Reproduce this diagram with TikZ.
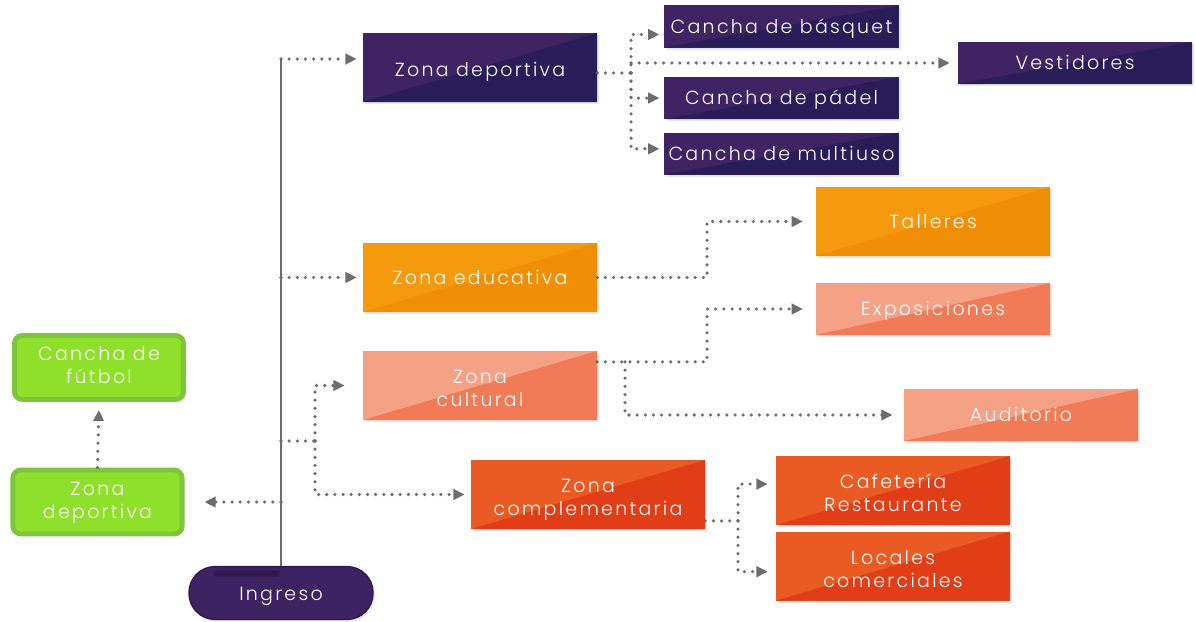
\documentclass[tikz,border=0pt]{standalone}
\usepackage{fontspec}
\newfontfamily\zonefont{Poppins}[UprightFont=* Light, LetterSpace=12]
\usetikzlibrary{arrows.meta,positioning,shadows}
\definecolor{sportA}{HTML}{402362}
\definecolor{sportB}{HTML}{281D59}
\definecolor{eduA}{HTML}{F5990D}
\definecolor{eduB}{HTML}{F08F05}
\definecolor{cultA}{HTML}{F4A185}
\definecolor{cultB}{HTML}{F07B56}
\definecolor{extraA}{HTML}{E95B22}
\definecolor{extraB}{HTML}{E13E18}
\definecolor{fieldFill}{HTML}{8EE02A}
\definecolor{fieldEdge}{HTML}{7EC43C}
\definecolor{entryFill}{HTML}{3D2361}
\definecolor{entryEdge}{HTML}{2E1A4C}
\definecolor{entryBar}{HTML}{30194F}
\definecolor{lineGray}{HTML}{6D6D6D}

\begin{document}
\begin{tikzpicture}[
    x=0.025cm, y=-0.025cm,
    every node/.style={font=\zonefont\fontsize{13.5}{16.4}\selectfont, text=white, align=center, inner sep=0pt, text height=3.3mm, text depth=0pt},
    pair/.style={text height=10.6mm},
    split/.style 2 args={fill=#1, path picture={\fill[#2] (path picture bounding box.south west) -- (path picture bounding box.north east) -- (path picture bounding box.south east) -- cycle;}},
    zone/.style={minimum width=5.85cm, minimum height=1.725cm, drop shadow={shadow xshift=0.6mm, shadow yshift=-0.6mm, opacity=0.18}},
    slim/.style={zone, minimum height=1.05cm},
    mid/.style={zone, minimum height=1.3cm},
    sport/.style={split={sportA}{sportB}},
    edu/.style={split={eduA}{eduB}},
    culture/.style={split={cultA}{cultB}},
    extra/.style={split={extraA}{extraB}},
    field/.style={draw=fieldEdge, line width=1.2mm, fill=fieldFill, rounded corners=2mm, minimum width=4.23cm, minimum height=1.6cm, text height=8.2mm, drop shadow={shadow xshift=0.5mm, shadow yshift=-0.5mm, opacity=0.15}},
    entry/.style={draw=entryEdge, line width=1pt, fill=entryFill, rounded corners=6.5mm, minimum width=4.6cm, minimum height=1.32cm, text height=3.5mm, drop shadow={shadow xshift=0.5mm, shadow yshift=-0.5mm, opacity=0.2}, path picture={\fill[entryBar, rounded corners=1pt] ([xshift=6.3mm, yshift=-1mm]path picture bounding box.north west) rectangle ++(16.3mm,-1.5mm);}},
    trunk/.style={draw=lineGray, line width=2pt},
    dots/.style={draw=lineGray, line width=2.5pt, line cap=round, dash pattern=on 0pt off 5.8pt},
    flow/.style={dots, -{Triangle[length=2.8mm, width=2.6mm]}, shorten >=1.5mm}
]
\useasboundingbox (0,0) rectangle (1196,622);

\node[zone, sport, text height=4.75mm] (sport) at (480,67.5) {Zona deportiva};
\node[slim, sport] (basket) at (781.5,26.5) {Cancha de básquet};
\node[slim, sport] (lockers) at (1075,63) {Vestidores};
\node[slim, sport, below=0.725cm of basket] (padel) {Cancha de pádel};
\node[slim, sport, below=0.325cm of padel] (multi) {Cancha de multiuso};
\node[zone, edu] (edu) at (480,277.5) {Zona educativa};
\node[zone, edu] (workshops) at (933,221.5) {Talleres};
\node[mid, culture] (expo) at (933,309) {Exposiciones};
\node[zone, culture, pair] (culture) at (480,385.5) {Zona\\cultural};
\node[mid, culture] (hall) at (1021,415) {Auditorio};
\node[zone, extra, pair] (extra) at (588,494.5) {Zona\\complementaria};
\node[zone, extra, pair] (cafe) at (893,490.5) {Cafetería\\Restaurante};
\node[zone, extra, pair, below=0.15cm of cafe] (shops) {Locales\\comerciales};
\node[field] (sportfield) at (97.5,502) {Zona\\deportiva};
\node[field] (football) at (99,367.5) {Cancha de\\fútbol};
\node[entry] (entry) at (281,593) {Ingreso};

\coordinate (top) at (281,59);
\coordinate (fork) at (315,441);
\coordinate (sportfork) at (631,73);
\coordinate (edubend) at (707,0);
\coordinate (hallbend) at (625,0);
\coordinate (extrafork) at (738,0);
\coordinate (cultureout) at ([yshift=5.9mm]culture.east);
\coordinate (extraout) at ([yshift=-6.6mm]extra.east);

\draw[trunk] (entry.north) -- (top);
\draw[flow] (top) -- (top -| sport.west);
\draw[flow] (entry.north |- edu.west) -- (edu.west);
\draw[dots] (entry.north |- fork) -- (fork);
\draw[flow, shorten >=4.5mm] (fork) |- (culture.west);
\draw[flow] (fork) |- (extra.west);
\draw[flow, shorten >=5mm] (entry.north |- sportfield.east) -- (sportfield.east);
\draw[flow, shorten >=2mm] (sportfield.north) -- (football.south);

\draw[dots] (sport.east |- sportfork) -- (sportfork);
\draw[flow, shorten >=1.2mm] (sportfork) |- ([yshift=-2mm]basket.west);
\draw[flow, shorten >=2mm] (sportfork |- lockers.west) -- (lockers.west);
\draw[flow, shorten >=1.2mm] (sportfork) |- (padel.west);
\draw[flow, shorten >=1.2mm] (sportfork) |- ([yshift=1.2mm]multi.west);

\draw[flow, shorten >=3.2mm] (edu.east) -| (edubend |- workshops) -- (workshops.west);
\draw[flow, shorten >=3.2mm] (cultureout) -| (edubend |- expo) -- (expo.west);
\draw[flow, shorten >=2.8mm] (cultureout -| hallbend) |- (hall.west);

\draw[dots] (extraout) -- (extraout -| extrafork);
\draw[flow, shorten >=2mm] (extraout -| extrafork) |- ([yshift=1.6mm]cafe.west);
\draw[flow, shorten >=2mm] (extraout -| extrafork) |- ([yshift=-1.4mm]shops.west);
\end{tikzpicture}
\end{document}
